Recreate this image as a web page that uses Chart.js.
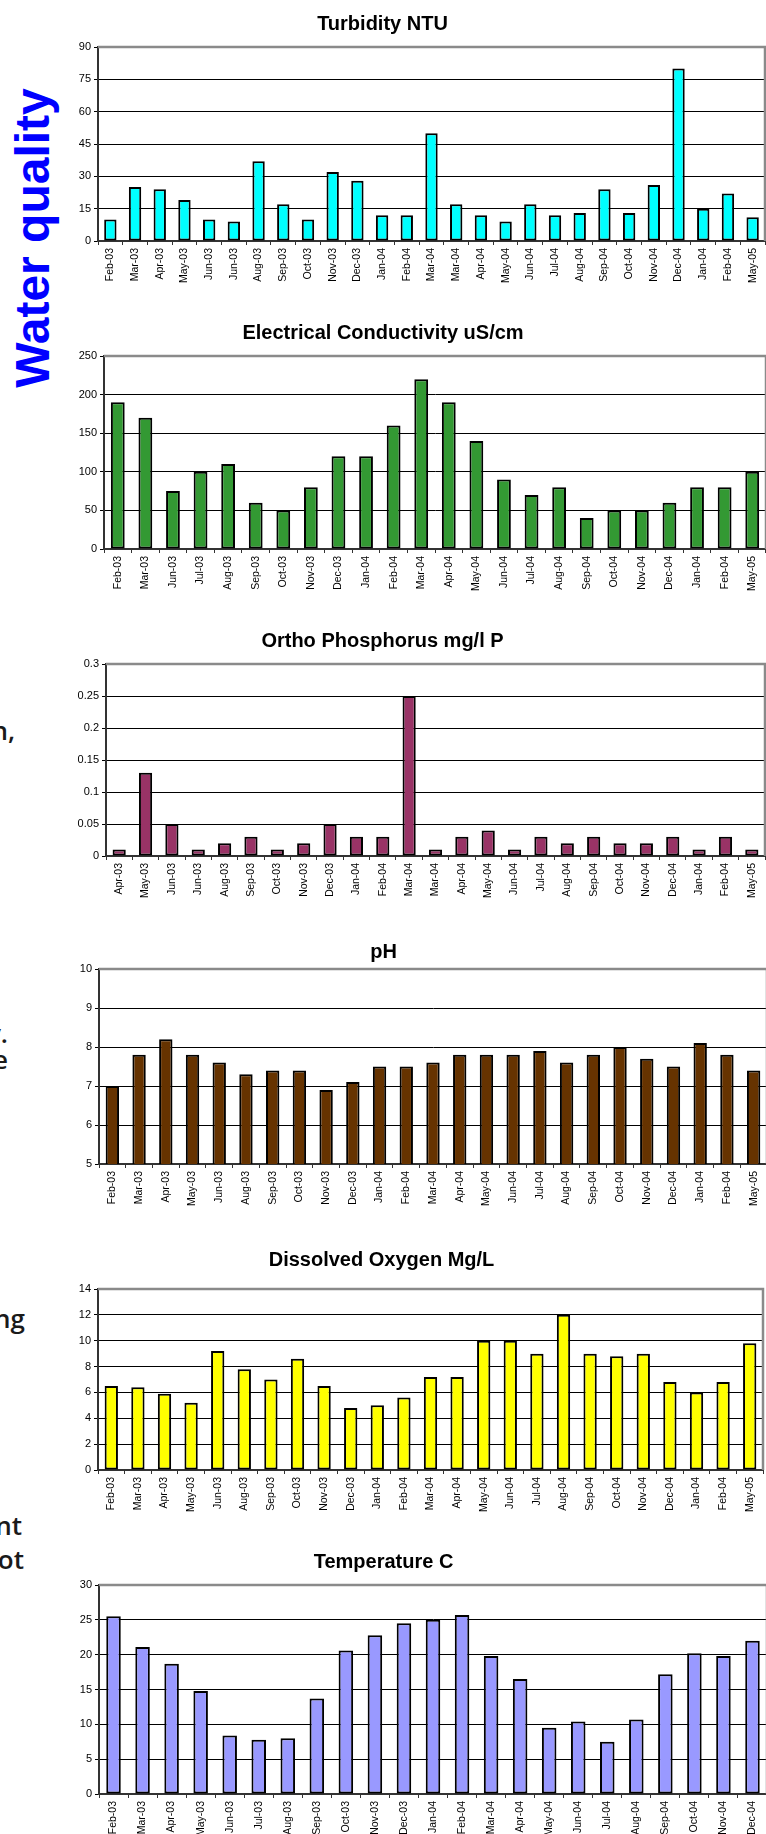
<!DOCTYPE html>
<html><head><meta charset="utf-8">
<script src="https://cdn.jsdelivr.net/npm/chart.js@4.4.1/dist/chart.umd.min.js"></script>
<style>
html,body{margin:0;padding:0;background:#fff;width:766px;height:1834px;overflow:hidden;position:relative}
canvas{position:absolute;left:0}
.side{position:absolute;font-family:'Open Sans',sans-serif;font-weight:600;font-size:26px;color:#1a1a1a;white-space:nowrap;line-height:1;text-align:right}
#wq{position:absolute;font:bold 48px 'Liberation Sans',Arial,sans-serif;color:#0000ff;white-space:nowrap;line-height:1;transform:translate(-50%,-50%) rotate(-90deg);left:33px;top:238px}
</style></head><body>
<div id="wq">Water quality</div>
<div class="side" style="right:751px;top:717px">n,</div>
<div class="side" style="right:758px;top:1020px">y.</div>
<div class="side" style="right:758px;top:1046px">e</div>
<div class="side" style="right:741px;top:1305px">ng</div>
<div class="side" style="right:744px;top:1512px">nt</div>
<div class="side" style="right:742px;top:1546px">ot</div>
<canvas id="c1"></canvas><canvas id="c2"></canvas><canvas id="c3"></canvas>
<canvas id="c4"></canvas><canvas id="c5"></canvas><canvas id="c6"></canvas>
<script>
// ---- data ----
const turbLabels = ["Feb-03","Mar-03","Apr-03","May-03","Jun-03","Jun-03","Aug-03","Sep-03","Oct-03","Nov-03","Dec-03","Jan-04","Feb-04","Mar-04","Mar-04","Apr-04","May-04","Jun-04","Jul-04","Aug-04","Sep-04","Oct-04","Nov-04","Dec-04","Jan-04","Feb-04","May-05"];
const turbValues = [10,25,24,19,10,9,37,17,10,32,28,12,12,50,17,12,9,17,12,13,24,13,26,80,15,22,11];

const ecLabels = ["Feb-03","Mar-03","Jun-03","Jul-03","Aug-03","Sep-03","Oct-03","Nov-03","Dec-03","Jan-04","Feb-04","Mar-04","Apr-04","May-04","Jun-04","Jul-04","Aug-04","Sep-04","Oct-04","Nov-04","Dec-04","Jan-04","Feb-04","May-05"];
const ecValues = [190,170,75,100,110,60,50,80,120,120,160,220,190,140,90,70,80,40,50,50,60,80,80,100];

const phosLabels = ["Apr-03","May-03","Jun-03","Jun-03","Aug-03","Sep-03","Oct-03","Nov-03","Dec-03","Jan-04","Feb-04","Mar-04","Mar-04","Apr-04","May-04","Jun-04","Jul-04","Aug-04","Sep-04","Oct-04","Nov-04","Dec-04","Jan-04","Feb-04","May-05"];
const phosValues = [0.01,0.13,0.05,0.01,0.02,0.03,0.01,0.02,0.05,0.03,0.03,0.25,0.01,0.03,0.04,0.01,0.03,0.02,0.03,0.02,0.02,0.03,0.01,0.03,0.01];

const phLabels = ["Feb-03","Mar-03","Apr-03","May-03","Jun-03","Aug-03","Sep-03","Oct-03","Nov-03","Dec-03","Jan-04","Feb-04","Mar-04","Apr-04","May-04","Jun-04","Jul-04","Aug-04","Sep-04","Oct-04","Nov-04","Dec-04","Jan-04","Feb-04","May-05"];
const phValues = [7.0,7.8,8.2,7.8,7.6,7.3,7.4,7.4,6.9,7.1,7.5,7.5,7.6,7.8,7.8,7.8,7.9,7.6,7.8,8.0,7.7,7.5,8.1,7.8,7.4];

const doLabels = ["Feb-03","Mar-03","Apr-03","May-03","Jun-03","Aug-03","Sep-03","Oct-03","Nov-03","Dec-03","Jan-04","Feb-04","Mar-04","Apr-04","May-04","Jun-04","Jul-04","Aug-04","Sep-04","Oct-04","Nov-04","Dec-04","Jan-04","Feb-04","May-05"];
const doValues = [6.5,6.4,5.9,5.2,9.2,7.8,7.0,8.6,6.5,4.8,5.0,5.6,7.2,7.2,10,10,9.0,12,9.0,8.8,9.0,6.8,6.0,6.8,9.8];

const tempLabels = ["Feb-03","Mar-03","Apr-03","May-03","Jun-03","Jul-03","Aug-03","Sep-03","Oct-03","Nov-03","Dec-03","Jan-04","Feb-04","Mar-04","Apr-04","May-04","Jun-04","Jul-04","Aug-04","Sep-04","Oct-04","Nov-04","Dec-04"];
const tempValues = [25.5,21.1,18.7,14.8,8.4,7.8,8.0,13.7,20.6,22.8,24.5,25.0,25.7,19.8,16.5,9.5,10.4,7.5,10.7,17.2,20.2,19.8,22.0];

const titles = ["Turbidity NTU","Electrical Conductivity uS/cm","Ortho Phosphorus mg/l P","pH","Dissolved Oxygen Mg/L","Temperature C"];
const yRanges = [[0,90,15],[0,250,50],[0,0.3,0.05],[5,10,1],[0,14,2],[0,30,5]];

// ---- layout ----
const W = 843, XH = 52;
const frameBorder = {
  id:'frameBorder',
  afterDatasetsDraw(chart){
    const a = chart.chartArea, ctx = chart.ctx;
    ctx.save();
    ctx.strokeStyle = '#8a8a8a'; ctx.lineWidth = 2.5;
    ctx.beginPath();
    ctx.moveTo(a.left, a.top); ctx.lineTo(a.right, a.top); ctx.lineTo(a.right, a.bottom);
    ctx.stroke();
    ctx.restore();
  }
};

function makeChart(id, labels, values, color, title, range, geo){
  const [titleY, plotTop, plotBottom, plotLeft, plotRight] = geo;
  const [mn, mx, st] = range;
  const top = titleY - 12;
  const H = plotBottom - top + XH;
  const cv = document.getElementById(id);
  cv.width = W; cv.height = H;
  cv.style.width = W + 'px'; cv.style.height = H + 'px'; cv.style.top = top + 'px';
  new Chart(cv, {
    type:'bar',
    data:{labels, datasets:[{data:values, backgroundColor:color, borderColor:'#000', borderWidth:2,
      borderSkipped:false, barPercentage:0.5, categoryPercentage:1}]},
    options:{
      responsive:false, animation:false, devicePixelRatio:1,
      layout:{padding:{left:0,right:W-plotRight,top:0,bottom:0}},
      plugins:{legend:{display:false}, tooltip:{enabled:false},
        title:{display:true, text:title, color:'#000',
          font:{family:'Liberation Sans', size:20, weight:'bold', lineHeight:1.2},
          padding:{top:0,bottom:plotTop-titleY-12}}},
      scales:{
        x:{grid:{display:true, drawOnChartArea:false, drawTicks:true, tickLength:4, color:'#333', offset:true},
           border:{display:true,color:'#333',width:2},
           ticks:{minRotation:90,maxRotation:90,autoSkip:false,padding:3,color:'#000',
             font:{family:'Liberation Sans',size:10.5}},
           afterFit(s){ s.height = XH; }},
        y:{min:mn, max:mx,
           ticks:{stepSize:st, color:'#000', padding:3, font:{family:'Liberation Sans',size:11},
             callback:(v)=> String(Number(v.toFixed(2)))},
           grid:{color:(c)=> (c.tick && c.tick.value >= mx - 1e-9) ? 'rgba(0,0,0,0)' : '#000',
             tickColor:'#000', lineWidth:1, tickLength:4, drawTicks:true},
           border:{color:'#333', width:2},
           afterFit(s){ s.width = plotLeft; }}
      }
    },
    plugins:[frameBorder]
  });
}

makeChart('c1', turbLabels, turbValues, '#00ffff', titles[0], yRanges[0], [24,47,241,98,765]);
makeChart('c2', ecLabels, ecValues, '#339933', titles[1], yRanges[1], [333,356,549,104,766]);
makeChart('c3', phosLabels, phosValues, '#993366', titles[2], yRanges[2], [641,664,856,106,765]);
makeChart('c4', phLabels, phValues, '#663300', titles[3], yRanges[3], [952,969,1164,99,767]);
makeChart('c5', doLabels, doValues, '#ffff00', titles[4], yRanges[4], [1260,1289,1470,98,763]);
makeChart('c6', tempLabels, tempValues, '#9999ff', titles[5], yRanges[5], [1562,1585,1794,99,767]);
</script>
</body></html>
